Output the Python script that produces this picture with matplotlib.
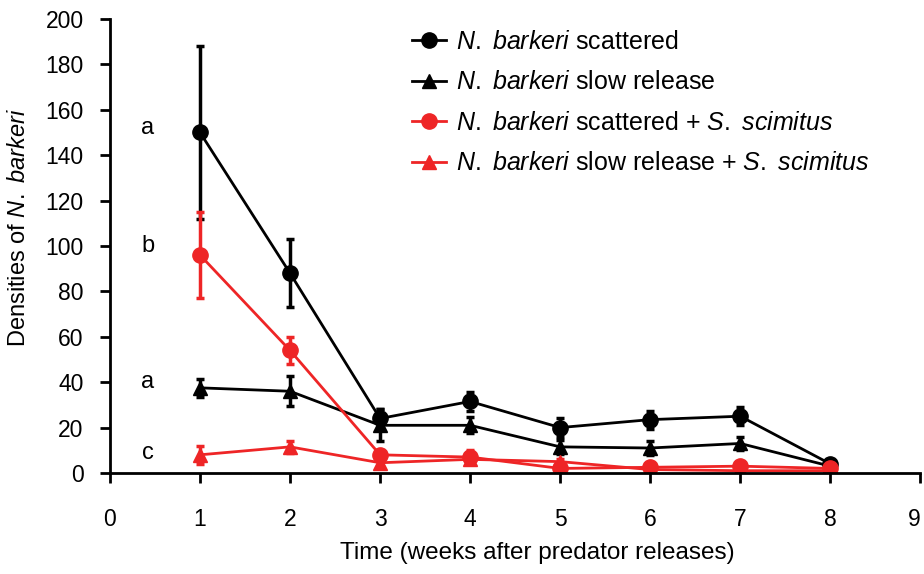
import numpy as np
import matplotlib.pyplot as plt

plt.rcParams['font.family'] = ['Liberation Sans', 'DejaVu Sans']
plt.rcParams['mathtext.fontset'] = 'custom'
plt.rcParams['mathtext.rm'] = 'Liberation Sans'
plt.rcParams['mathtext.it'] = 'Liberation Sans:italic'

weeks = [1, 2, 3, 4, 5, 6, 7, 8]

# N. barkeri scattered
scat = [150, 88, 24, 31.5, 20, 23.5, 25, 4]
scat_err = [38, 15, 4, 4, 4, 4, 4, 1]
# N. barkeri slow release
slow = [37.5, 36, 21, 21, 11.5, 11, 13, 3]
slow_err = [4, 6.5, 7, 3.5, 3, 3, 3, 1]
# scattered + S. scimitus
scat_ss = [96, 54, 8, 7, 2, 2.5, 3, 2]
scat_ss_err = [19, 6, 2, 3, 1, 1, 1, 0.5]
# slow release + S. scimitus
slow_ss = [8, 11.5, 4.5, 6, 5, 1.5, 1, 1]
slow_ss_err = [4, 2.5, 1, 2, 1, 0.5, 0.5, 0.5]

letters = ['a', 'b', 'a', 'c']
letter_y = [152, 100, 40, 9]

red = '#ee2526'

fig = plt.figure(figsize=(9.24, 5.74), dpi=100)
ax = fig.add_axes([0.119, 0.176, 0.877, 0.791])

series = [
    (scat, scat_err, 'k', 'o', 11, r'$\it{N.\ barkeri}$ scattered'),
    (slow, slow_err, 'k', '^', 10, r'$\it{N.\ barkeri}$ slow release'),
    (scat_ss, scat_ss_err, red, 'o', 11,
     r'$\it{N.\ barkeri}$ scattered + $\it{S.\ scimitus}$'),
    (slow_ss, slow_ss_err, red, '^', 10,
     r'$\it{N.\ barkeri}$ slow release + $\it{S.\ scimitus}$'),
]
handles = []
for vals, errs, col, mk, ms, lab in series:
    ax.errorbar(weeks, vals, yerr=errs, fmt='none', ecolor=col,
                elinewidth=2.5, capsize=3, capthick=2.5)
    h, = ax.plot(weeks, vals, color=col, marker=mk, markersize=ms, lw=2,
                 label=lab)
    handles.append(h)

for lt, ly in zip(letters, letter_y):
    ax.text(0.42, ly, lt, fontsize=17, ha='center', va='center')

ax.set_xlim(0, 9)
ax.set_ylim(0, 200)
ax.set_xticks(range(0, 10))
ax.set_yticks(range(0, 201, 20))
ax.spines['top'].set_visible(False)
ax.spines['right'].set_visible(False)
ax.spines['left'].set_linewidth(2)
ax.spines['bottom'].set_linewidth(2)
ax.tick_params(direction='out', width=2, length=7, labelsize=16.5)
ax.tick_params(axis='x', pad=18)
ax.tick_params(axis='y', pad=12)
# keep the last x label inside the figure edge
ax.get_xticklabels()[-1].set_ha('right')

ax.set_xlabel('Time (weeks after predator releases)', fontsize=17.5)
ax.xaxis.label.set_va('center')
ax.xaxis.set_label_coords(0.527, -0.176)
ax.set_ylabel(r'Densities of $\it{N.\ barkeri}$', fontsize=17)
ax.yaxis.label.set_va('center')
ax.yaxis.set_label_coords(-0.112, 0.54)

ax.legend(handles=handles, loc='upper left', bbox_to_anchor=(412 / 924, 0.948),
          bbox_transform=fig.transFigure, borderaxespad=0, borderpad=0,
          frameon=False, fontsize=18, handlelength=1.35, handletextpad=0.4,
          labelspacing=0.66)

fig.savefig('out.png', dpi=100)
